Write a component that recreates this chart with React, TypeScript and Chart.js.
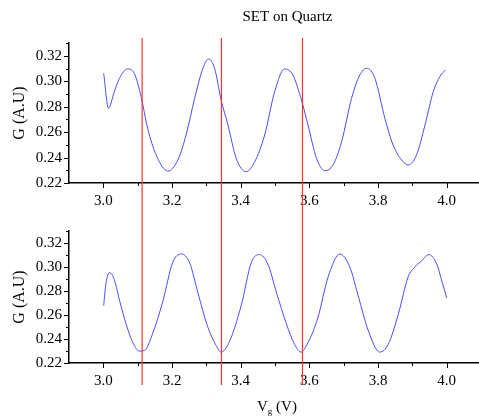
import React, { useEffect, useRef } from "react";
import { Chart, registerables } from "chart.js";

Chart.register(...registerables);

// ---- data ----
const topVoltage = [
  3.001, 3.015, 3.032, 3.047, 3.071, 3.09, 3.11, 3.129, 3.154, 3.188, 3.217, 3.241, 3.266, 3.29, 3.306,
  3.324, 3.343, 3.363, 3.387, 3.416, 3.441, 3.47, 3.499, 3.528, 3.552, 3.577, 3.596, 3.621, 3.645,
  3.669, 3.694, 3.723, 3.747, 3.767, 3.791, 3.82, 3.844, 3.869, 3.888, 3.912, 3.937, 3.961, 3.98, 3.997,
];
const topConductance = [
  0.3064, 0.2788, 0.2919, 0.3024, 0.3098, 0.3064, 0.288, 0.2631, 0.242, 0.2294, 0.2381, 0.2578, 0.2867,
  0.3103, 0.3176, 0.3103, 0.2854, 0.2657, 0.2394, 0.2289, 0.2368, 0.2578, 0.2919, 0.3098, 0.305, 0.2854,
  0.2657, 0.2394, 0.2297, 0.2342, 0.2525, 0.2867, 0.305, 0.3103, 0.3024, 0.2709, 0.2499, 0.2381, 0.2342,
  0.242, 0.2657, 0.2919, 0.3037, 0.309,
];
const bottomVoltage = [
  3.001, 3.008, 3.018, 3.032, 3.047, 3.066, 3.086, 3.105, 3.12, 3.144, 3.173, 3.202, 3.227, 3.251, 3.275,
  3.304, 3.329, 3.343, 3.368, 3.402, 3.431, 3.455, 3.479, 3.504, 3.533, 3.557, 3.575, 3.596, 3.625, 3.655,
  3.689, 3.718, 3.742, 3.771, 3.805, 3.83, 3.859, 3.888, 3.907, 3.927, 3.948, 3.971, 3.985, 4.0,
];
const bottomConductance = [
  0.268, 0.2869, 0.2956, 0.2895, 0.2724, 0.2528, 0.237, 0.2299, 0.2305, 0.2449, 0.2712, 0.3039, 0.311,
  0.3039, 0.2791, 0.2502, 0.2344, 0.2291, 0.2383, 0.2685, 0.3039, 0.3105, 0.3027, 0.2791, 0.2528, 0.2357,
  0.2291, 0.237, 0.258, 0.2921, 0.311, 0.3, 0.2764, 0.2476, 0.2291, 0.2357, 0.2606, 0.2921, 0.3, 0.3053,
  0.3105, 0.3027, 0.2895, 0.2743,
];
const markerVoltages = [3.113, 3.344, 3.58];
const xTickValues = [3.0, 3.2, 3.4, 3.6, 3.8, 4.0];
const xMinorTickValues = [3.1, 3.3, 3.5, 3.7, 3.9];
const yTickValues = [0.22, 0.24, 0.26, 0.28, 0.3, 0.32];
const yMinorTickValues = [0.23, 0.25, 0.27, 0.29, 0.31, 0.33];
const chartTitle = "SET on Quartz";
const yAxisTitle = "G (A.U)";
const xAxisTitleMain = "V";
const xAxisTitleSub = "g";
const xAxisTitleUnit = " (V)";

const FONT = "'Liberation Serif', 'Times New Roman', serif";
const CANVAS_W = 482;
const SPLIT = 215;

type PanelOpts = {
  height: number;
  padTop: number;
  xAxisHeight: number;
  lineTop: number;
  lineBottom: number;
  showTitle: boolean;
  showXTitle: boolean;
};

function makeChart(canvas: HTMLCanvasElement, xs: number[], ys: number[], p: PanelOpts) {
  const decor = {
    id: "decor",
    afterDraw(chart: any) {
      const ctx = chart.ctx as CanvasRenderingContext2D;
      const xs_ = chart.scales.x;
      const ys_ = chart.scales.y;
      const area = chart.chartArea;
      ctx.save();
      ctx.strokeStyle = "#000";
      ctx.lineWidth = 1;
      const drawX = (v: number, len: number) => {
        const px = Math.round(xs_.getPixelForValue(v)) + 0.5;
        ctx.beginPath();
        ctx.moveTo(px, area.bottom);
        ctx.lineTo(px, area.bottom + len);
        ctx.stroke();
      };
      xTickValues.forEach((v) => drawX(v, 5));
      xMinorTickValues.forEach((v) => drawX(v, 3));
      const drawY = (v: number, len: number) => {
        const py = Math.round(ys_.getPixelForValue(v)) + 0.5;
        ctx.beginPath();
        ctx.moveTo(area.left, py);
        ctx.lineTo(area.left - len, py);
        ctx.stroke();
      };
      yTickValues.forEach((v) => drawY(v, 5));
      yMinorTickValues.forEach((v) => drawY(v, 3));

      ctx.strokeStyle = "#ff3030";
      ctx.lineWidth = 1.2;
      markerVoltages.forEach((v) => {
        const px = xs_.getPixelForValue(v);
        ctx.beginPath();
        ctx.moveTo(px, p.lineTop);
        ctx.lineTo(px, p.lineBottom);
        ctx.stroke();
      });

      ctx.fillStyle = "#000";
      if (p.showTitle) {
        ctx.font = `15px ${FONT}`;
        ctx.textAlign = "center";
        ctx.textBaseline = "alphabetic";
        ctx.fillText(chartTitle, 287.5, 21);
      }
      if (p.showXTitle) {
        ctx.textBaseline = "alphabetic";
        ctx.textAlign = "left";
        const base = 410.5 - SPLIT;
        let x0 = 257;
        ctx.font = `15px ${FONT}`;
        ctx.fillText(xAxisTitleMain, x0, base);
        x0 += ctx.measureText(xAxisTitleMain).width;
        ctx.font = `9px ${FONT}`;
        ctx.fillText(xAxisTitleSub, x0, base + 3);
        x0 += ctx.measureText(xAxisTitleSub).width;
        ctx.font = `15px ${FONT}`;
        ctx.fillText(xAxisTitleUnit, x0, base);
      }
      ctx.restore();
    },
  };

  return new Chart(canvas, {
    type: "line",
    data: {
      datasets: [
        {
          data: xs.map((x, i) => ({ x, y: ys[i] })),
          borderColor: "#4b4bff",
          borderWidth: 1,
          pointRadius: 0,
          fill: false,
          cubicInterpolationMode: "monotone",
        },
      ],
    },
    options: {
      animation: false,
      responsive: false,
      devicePixelRatio: 1,
      layout: { padding: { top: p.padTop, right: 1, left: 0, bottom: 0 } },
      plugins: { legend: { display: false }, tooltip: { enabled: false }, title: { display: false } },
      scales: {
        x: {
          type: "linear",
          min: 2.9,
          max: 4.1,
          grid: { display: false, drawTicks: false },
          border: { display: true, color: "#000", width: 1.5 },
          afterBuildTicks: (s: any) => {
            s.ticks = xTickValues.map((v) => ({ value: v }));
          },
          afterFit: (s: any) => {
            s.height = p.xAxisHeight;
          },
          ticks: {
            padding: 9,
            color: "#000",
            font: { family: FONT, size: 15 },
            maxRotation: 0,
            autoSkip: false,
            callback: (v: any) => Number(v).toFixed(1),
          },
        },
        y: {
          type: "linear",
          min: 0.22,
          max: 0.3302,
          grid: { display: false, drawTicks: false },
          border: { display: true, color: "#000", width: 1.5 },
          afterBuildTicks: (s: any) => {
            s.ticks = yTickValues.map((v) => ({ value: v }));
          },
          afterFit: (s: any) => {
            s.width = 69;
          },
          title: {
            display: true,
            text: yAxisTitle,
            color: "#000",
            font: { family: FONT, size: 16 },
            padding: { top: 10, bottom: 0 },
          },
          ticks: {
            padding: 7,
            color: "#000",
            font: { family: FONT, size: 15 },
            autoSkip: false,
            callback: (v: any) => Number(v).toFixed(2),
          },
        },
      },
    },
    plugins: [decor],
  } as any);
}

function Panel(props: { xs: number[]; ys: number[]; top: number; opts: PanelOpts }) {
  const ref = useRef<HTMLCanvasElement>(null);
  useEffect(() => {
    if (!ref.current) return;
    const c = makeChart(ref.current, props.xs, props.ys, props.opts);
    return () => c.destroy();
  }, []);
  return (
    <canvas
      ref={ref}
      width={CANVAS_W}
      height={props.opts.height}
      style={{
        position: "absolute",
        left: 0,
        top: props.top,
        width: CANVAS_W,
        height: props.opts.height,
        display: "block",
      }}
    />
  );
}

export default function App() {
  return (
    <div
      style={{
        position: "fixed",
        left: 0,
        top: 0,
        width: 479,
        height: 417,
        overflow: "hidden",
        background: "#fff",
      }}
    >
      <Panel
        xs={topVoltage}
        ys={topConductance}
        top={0}
        opts={{
          height: SPLIT,
          padTop: 43,
          xAxisHeight: SPLIT - 183,
          lineTop: 38,
          lineBottom: SPLIT,
          showTitle: true,
          showXTitle: false,
        }}
      />
      <Panel
        xs={bottomVoltage}
        ys={bottomConductance}
        top={SPLIT}
        opts={{
          height: 417 - SPLIT,
          padTop: 223 - SPLIT,
          xAxisHeight: 417 - 363,
          lineTop: 0,
          lineBottom: 385 - SPLIT,
          showTitle: false,
          showXTitle: true,
        }}
      />
    </div>
  );
}
